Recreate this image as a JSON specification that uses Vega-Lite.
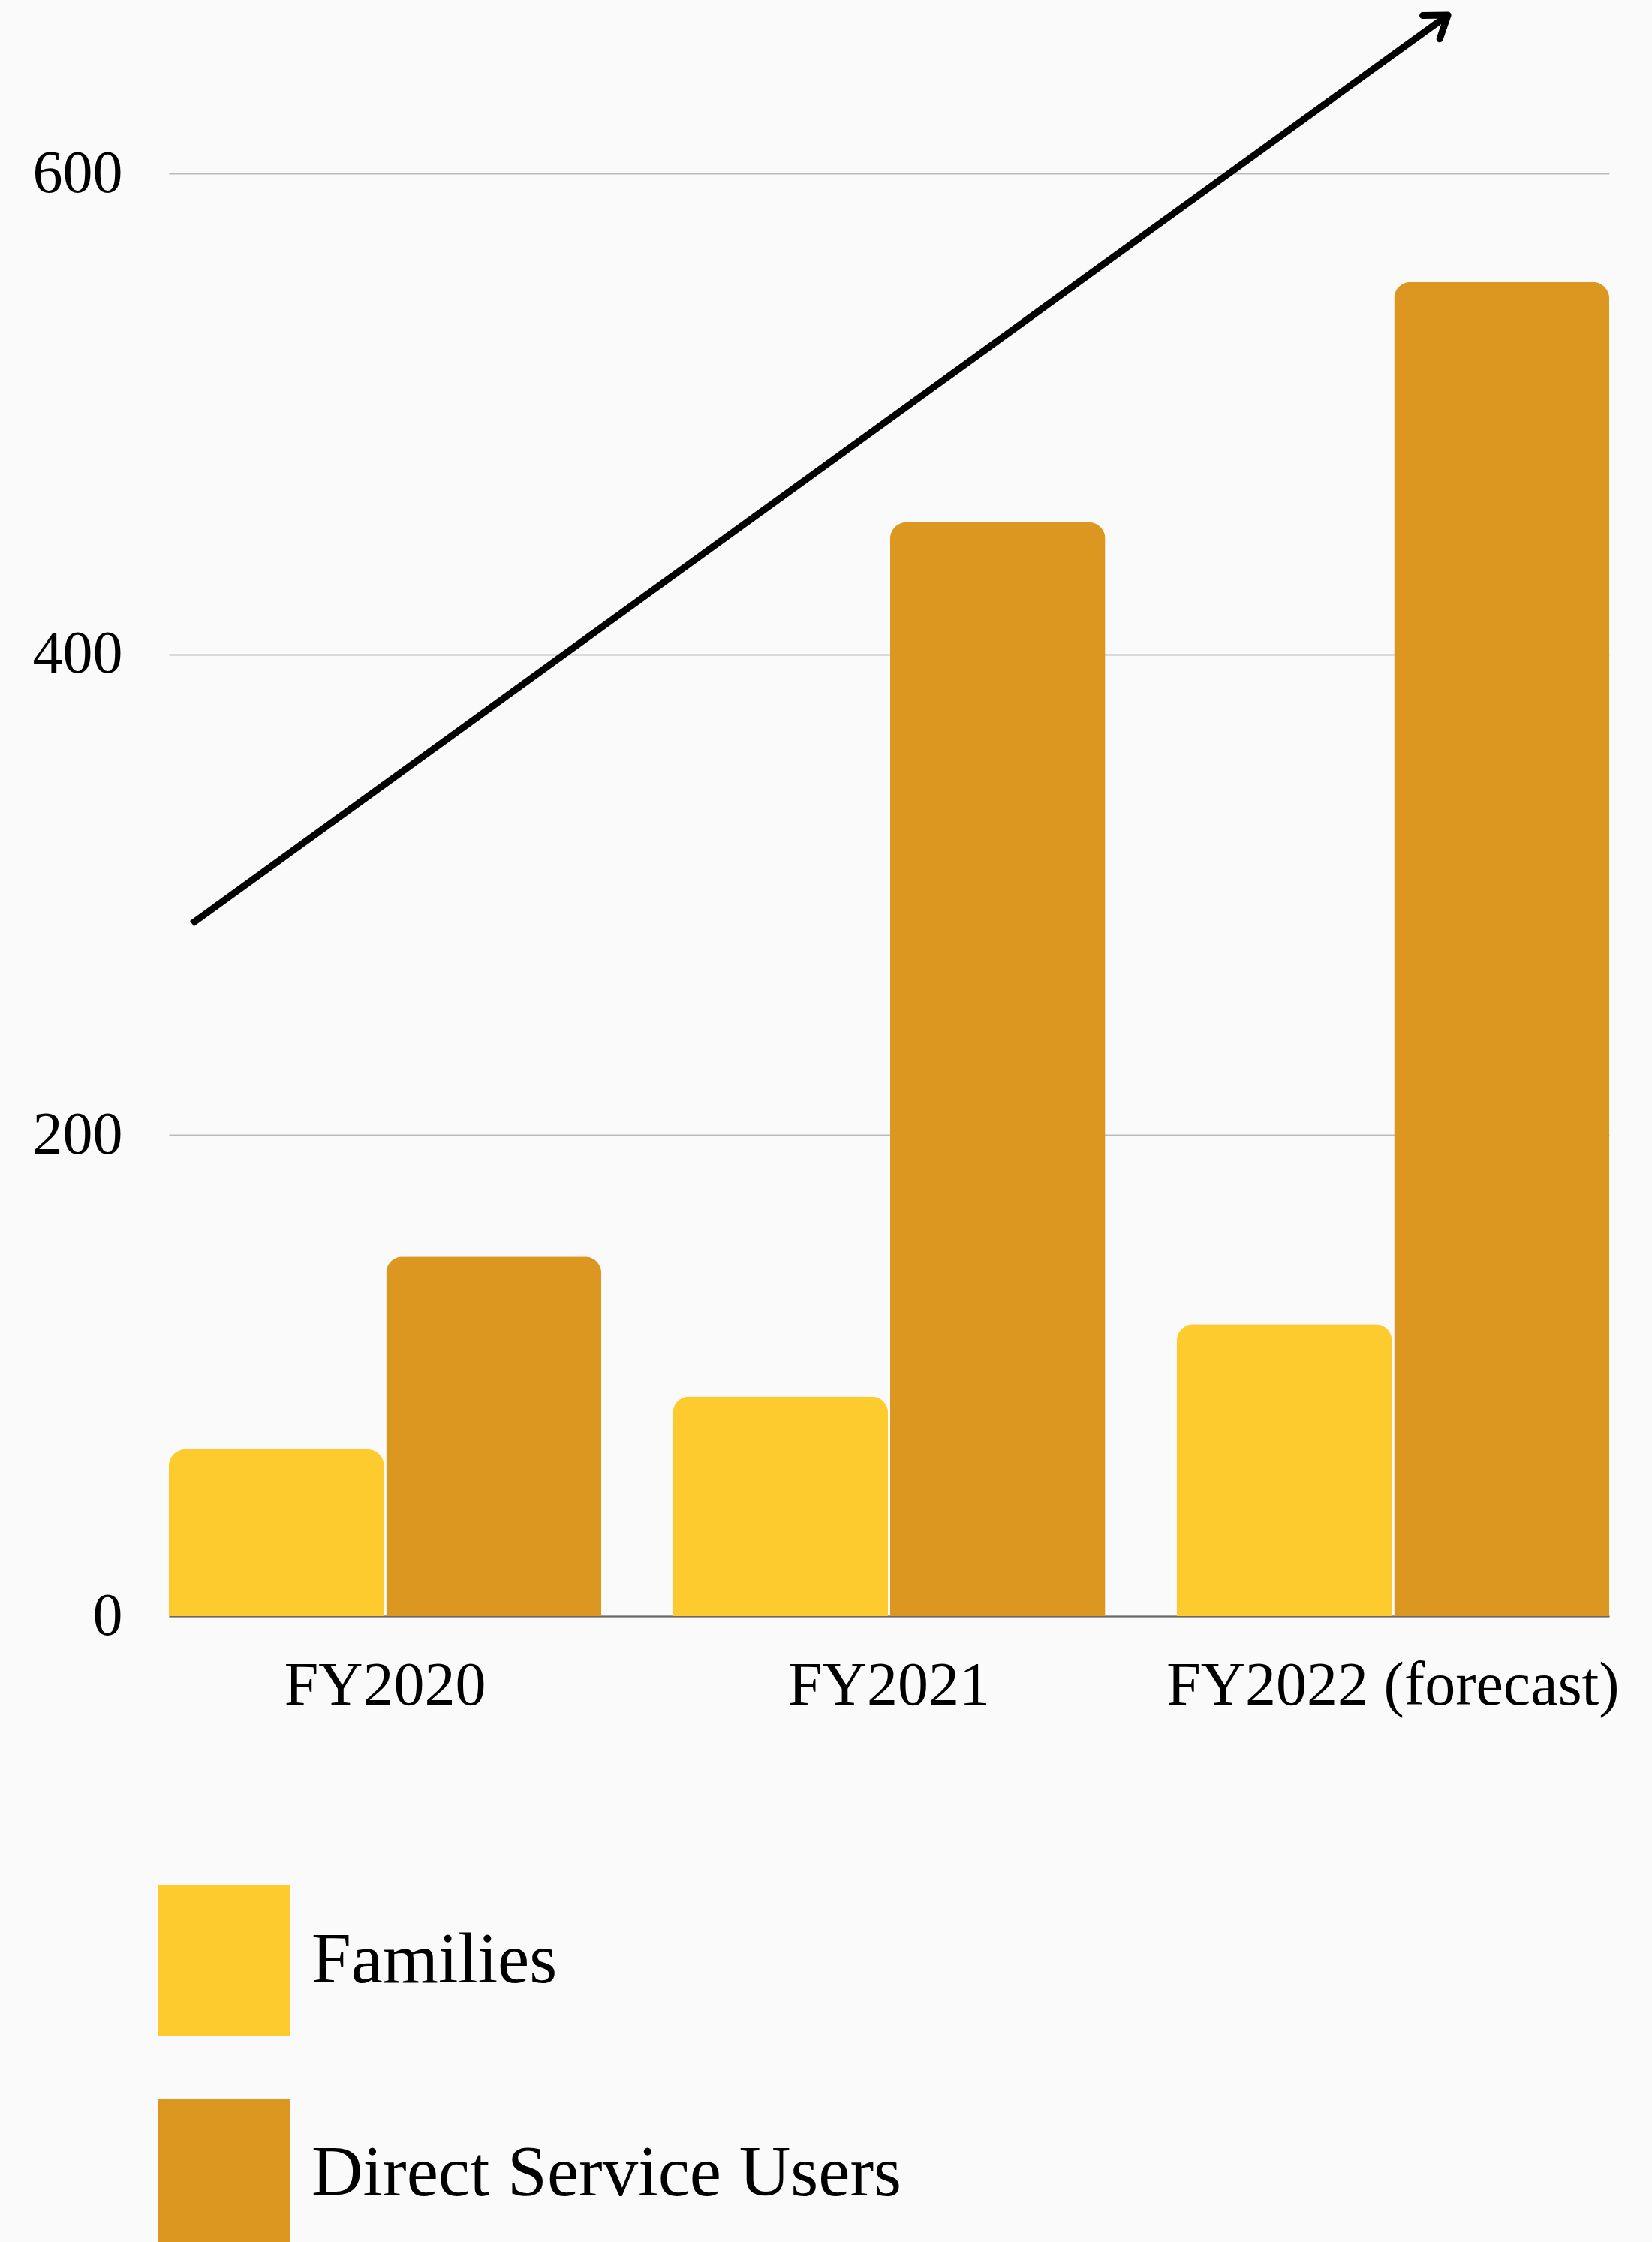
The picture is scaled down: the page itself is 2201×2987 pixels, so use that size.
{
  "$schema": "https://vega.github.io/schema/vega-lite/v6.json",
  "width": 1919,
  "height": 2149,
  "autosize": {"type": "none"},
  "padding": {"left": 225, "top": 4, "right": 57, "bottom": 834},
  "background": "#fafafa",
  "config": {"view": {"stroke": null}, "font": "Liberation Serif"},
  "layer": [
    {
      "data": {
        "values": [
          {"year": "FY2020", "series": "Families", "value": 69.3},
          {"year": "FY2020", "series": "Direct Service Users", "value": 149.5},
          {"year": "FY2021", "series": "Families", "value": 91.3},
          {"year": "FY2021", "series": "Direct Service Users", "value": 455},
          {"year": "FY2022 (forecast)", "series": "Families", "value": 121.4},
          {"year": "FY2022 (forecast)", "series": "Direct Service Users", "value": 554.9}
        ]
      },
      "mark": {"type": "bar", "cornerRadiusTopLeft": 22, "cornerRadiusTopRight": 22},
      "encoding": {
        "x": {
          "field": "year", "type": "nominal",
          "sort": ["FY2020", "FY2021", "FY2022 (forecast)"],
          "scale": {"paddingInner": 0.142, "paddingOuter": 0},
          "axis": {"title": null, "labelAngle": 0, "labelFontSize": 82, "labelColor": "#000000", "labelFont": "Liberation Serif", "ticks": false, "labelPadding": 52, "domainColor": "#666666", "domainWidth": 2, "labelLimit": 1000}
        },
        "xOffset": {
          "field": "series", "type": "nominal",
          "sort": ["Families", "Direct Service Users"],
          "scale": {"paddingInner": 0.01}
        },
        "y": {
          "field": "value", "type": "quantitative",
          "scale": {"domain": [0, 671], "nice": false},
          "axis": {"title": null, "values": [0, 200, 400, 600], "domain": false, "ticks": false, "labelFontSize": 80, "labelFont": "Liberation Serif", "labelPadding": 62, "labelBaseline": "middle", "gridColor": "#bbbbbb", "gridWidth": 2, "labelColor": "#000000"}
        },
        "color": {
          "field": "series", "type": "nominal",
          "sort": ["Families", "Direct Service Users"],
          "scale": {"range": ["#FDCB2D", "#DC9721"]},
          "legend": {
            "orient": "none", "legendX": -26.5, "legendY": 2508, "title": null,
            "direction": "vertical",
            "symbolType": "M-0.885,-1H0.885V1H-0.885Z", "symbolSize": 40000,
            "symbolStrokeWidth": 0, "symbolOpacity": 1,
            "labelFontSize": 95, "labelFont": "Liberation Serif", "labelColor": "#000000",
            "labelLimit": 1200, "labelOffset": 16.5, "rowPadding": 84, "padding": 0
          }
        }
      }
    },
    {
      "data": {"values": [{"x": 0.016, "y": 288, "x2": 0.888, "y2": 666}]},
      "mark": {"type": "rule", "color": "#000000", "strokeWidth": 9, "strokeCap": "butt"},
      "encoding": {
        "x": {"field": "x", "type": "quantitative", "scale": {"domain": [0, 1], "nice": false, "zero": false}, "axis": null},
        "y": {"field": "y", "type": "quantitative", "axis": {"title": null}},
        "x2": {"field": "x2"},
        "y2": {"field": "y2"}
      }
    },
    {
      "data": {"values": [{"x": 0.016, "y": 288, "x2": 0.888, "y2": 666}]},
      "mark": {"type": "point", "shape": "M-0.574,0.819L0,0L0.574,0.819", "filled": false, "stroke": "#000000", "strokeWidth": 9, "strokeCap": "round", "strokeJoin": "round", "size": 4500, "angle": 54, "opacity": 1},
      "encoding": {
        "x": {"field": "x2", "type": "quantitative", "scale": {"domain": [0, 1], "nice": false, "zero": false}, "axis": null},
        "y": {"field": "y2", "type": "quantitative", "axis": {"title": null}}
      }
    }
  ],
  "resolve": {"scale": {"x": "independent"}}
}
